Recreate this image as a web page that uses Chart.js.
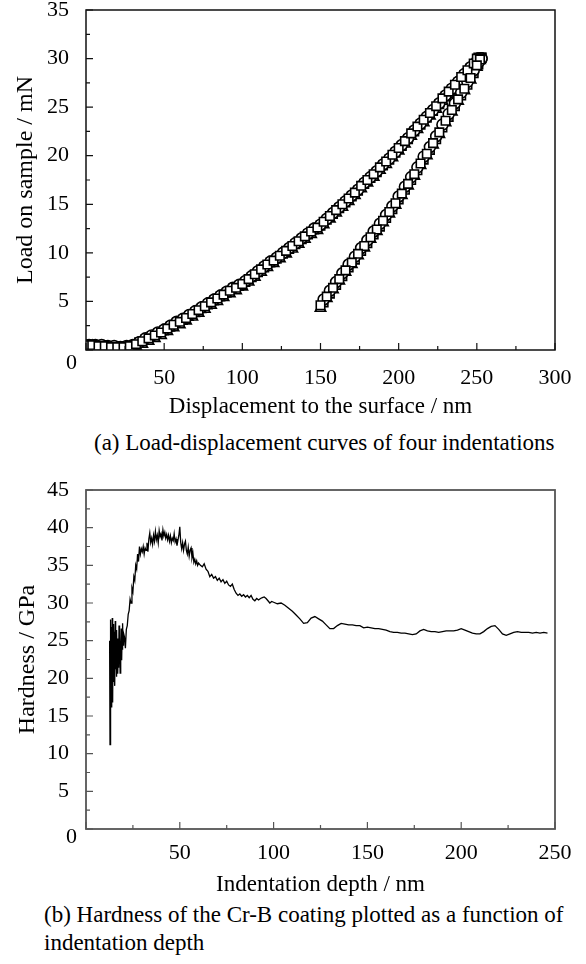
<!DOCTYPE html>
<html>
<head>
<meta charset="utf-8">
<script src="https://cdn.jsdelivr.net/npm/chart.js@4.4.1/dist/chart.umd.min.js"></script>
<style>
body { margin: 0; background: #fff; width: 586px; height: 964px; position: relative; overflow: hidden;
       font-family: "Liberation Serif", "Times New Roman", serif; color: #000; }
#c1 { position: absolute; left: 0; top: 0; }
#c2 { position: absolute; left: 0; top: 460px; }
.cap { position: absolute; font-size: 23px; line-height: 23px; white-space: nowrap; }
</style>
</head>
<body>
<canvas id="c1" width="586" height="430"></canvas>
<canvas id="c2" width="586" height="440"></canvas>
<div class="cap" style="left:94px;top:431px">(a) Load-displacement curves of four indentations</div>
<div class="cap" style="left:44px;top:903px">(b) Hardness of the Cr-B coating plotted as a function of</div>
<div class="cap" style="left:44px;top:931px">indentation depth</div>
<script>
// (a) load-displacement, four indentations
var loadDispA = [0, 4, 8, 12, 16, 20, 24, 28, 32, 36, 40, 44, 48, 52, 56, 60, 64, 68, 72, 76, 80, 84, 88, 92, 96,
    100, 104, 108, 112, 116, 120, 124, 128, 132, 136, 140, 144, 148, 152, 156, 160, 164, 168, 172, 176, 180,
    184, 188, 192, 196, 200, 204, 208, 212, 216, 220, 224, 228, 232, 236, 240, 244, 248, 250, 252];
var loadDispB = [2, 6, 10, 14, 18, 22, 26, 30, 34, 38, 42, 46, 50, 54, 58, 62, 66, 70, 74, 78, 82, 86, 90, 94, 98,
    102, 106, 110, 114, 118, 122, 126, 130, 134, 138, 142, 146, 150, 154, 158, 162, 166, 170, 174, 178, 182,
    186, 190, 194, 198, 202, 206, 210, 214, 218, 222, 226, 230, 234, 238, 242, 246, 250, 251, 253];
var load1 = [0.5, 0.5, 0.4, 0.4, 0.3, 0.3, 0.3, 0.4, 0.6, 0.9, 1.2, 1.5, 1.8, 2.2, 2.6, 2.9, 3.3, 3.7, 4.1, 4.5,
    4.9, 5.3, 5.7, 6.1, 6.4, 6.8, 7.3, 7.8, 8.3, 8.8, 9.2, 9.7, 10.2, 10.7, 11.2, 11.7, 12.2, 12.6, 13.2, 13.8,
    14.4, 15.0, 15.6, 16.2, 16.9, 17.5, 18.1, 18.8, 19.4, 20.1, 20.8, 21.5, 22.3, 23.0, 23.7, 24.4, 25.1, 25.9,
    26.6, 27.3, 28.1, 28.8, 29.5, 30.0, 30.0];
var load2 = [0.5, 0.5, 0.5, 0.4, 0.4, 0.3, 0.4, 0.5, 0.8, 1.2, 1.5, 1.8, 2.1, 2.5, 2.9, 3.2, 3.6, 4.0, 4.4, 4.8,
    5.2, 5.6, 6.0, 6.4, 6.7, 7.1, 7.6, 8.1, 8.6, 9.1, 9.5, 10.0, 10.5, 11.0, 11.5, 12.0, 12.5, 12.9, 13.5, 14.1,
    14.7, 15.3, 15.9, 16.5, 17.2, 17.8, 18.4, 19.1, 19.7, 20.4, 21.1, 21.8, 22.6, 23.3, 24.0, 24.7, 25.4, 26.2,
    26.9, 27.6, 28.4, 29.1, 29.7, 30.0, 30.0];
var load3 = [0.4, 0.4, 0.3, 0.3, 0.2, 0.2, 0.2, 0.3, 0.4, 0.6, 0.9, 1.2, 1.5, 1.9, 2.3, 2.6, 3.0, 3.4, 3.8, 4.2,
    4.6, 5.0, 5.4, 5.8, 6.1, 6.5, 7.0, 7.5, 8.0, 8.5, 8.9, 9.4, 9.9, 10.4, 10.9, 11.4, 11.9, 12.3, 12.9, 13.5,
    14.1, 14.7, 15.3, 15.9, 16.6, 17.2, 17.8, 18.5, 19.1, 19.8, 20.5, 21.2, 22.0, 22.7, 23.4, 24.1, 24.8, 25.6,
    26.3, 27.0, 27.8, 28.5, 29.2, 29.8, 29.9];
var load4 = [0.6, 0.5, 0.5, 0.4, 0.4, 0.3, 0.4, 0.4, 0.8, 1.1, 1.4, 1.7, 2.0, 2.4, 2.8, 3.1, 3.5, 3.9, 4.3, 4.7,
    5.1, 5.5, 5.9, 6.3, 6.6, 7.0, 7.5, 8.0, 8.5, 9.0, 9.4, 9.9, 10.4, 10.9, 11.4, 11.9, 12.4, 12.8, 13.4, 14.0,
    14.6, 15.2, 15.8, 16.4, 17.1, 17.7, 18.3, 19.0, 19.6, 20.3, 21.0, 21.7, 22.5, 23.2, 23.9, 24.6, 25.3, 26.1,
    26.8, 27.5, 28.3, 29.0, 29.6, 30.1, 30.1];

var unloadDispA = [252, 250, 246, 242, 238, 234, 230, 226, 222, 218, 214, 210, 206, 202, 198, 194, 190, 186,
    182, 178, 174, 170, 166, 162, 158, 154, 150];
var unloadDispB = [253, 251, 248, 244, 240, 236, 232, 228, 224, 220, 216, 212, 208, 204, 200, 196, 192, 188,
    184, 180, 176, 172, 168, 164, 160, 156, 152];
var unload1 = [29.9, 29.3, 28.0, 26.9, 25.8, 24.7, 23.6, 22.4, 21.3, 20.2, 19.2, 18.1, 17.1, 16.1, 15.1, 14.2,
    13.3, 12.4, 11.6, 10.7, 9.9, 9.0, 8.2, 7.3, 6.4, 5.5, 4.6];
var unload2 = [30.0, 29.6, 28.8, 27.6, 26.5, 25.4, 24.3, 23.2, 22.0, 20.9, 19.9, 18.8, 17.8, 16.8, 15.8, 14.8,
    13.9, 13.0, 12.2, 11.3, 10.5, 9.6, 8.8, 7.9, 7.0, 6.1, 5.2];
var unload3 = [29.8, 29.1, 27.8, 26.7, 25.6, 24.5, 23.4, 22.2, 21.1, 20.0, 19.0, 17.9, 16.9, 15.9, 14.9, 14.0,
    13.1, 12.2, 11.4, 10.5, 9.7, 8.8, 8.0, 7.1, 6.2, 5.3, 4.3];
var unload4 = [30.1, 29.4, 28.5, 27.3, 26.2, 25.1, 24.0, 22.9, 21.7, 20.6, 19.6, 18.5, 17.5, 16.5, 15.5, 14.5,
    13.6, 12.7, 11.9, 11.0, 10.2, 9.3, 8.5, 7.6, 6.7, 5.8, 4.9];

var dispTicks = [0, 50, 100, 150, 200, 250, 300];
var loadTicks = [0, 5, 10, 15, 20, 25, 30, 35];

// (b) hardness vs indentation depth
var depth = [12.6, 12.8, 13.0, 13.2, 13.4, 13.6, 13.8, 14.0, 14.2, 14.4, 14.6, 14.8, 15.0, 15.2, 15.4, 15.6,
    15.8, 16.0, 16.2, 16.4, 16.6, 16.8, 17.0, 17.2, 17.4, 17.6, 17.8, 18.0, 18.2, 18.4, 18.6, 18.8, 19.0, 19.2,
    19.4, 19.6, 19.8, 20.0,
    20.5, 21, 21.5, 22, 22.5, 23, 23.5, 24, 24.5, 25, 25.5, 26, 26.5, 27, 27.5, 28, 28.5, 29, 29.5, 30,
    30.5, 31, 31.5, 32, 32.5, 33, 33.5, 34, 34.5, 35, 35.5, 36, 36.5, 37, 37.5, 38, 38.5, 39, 39.5, 40,
    40.5, 41, 41.5, 42, 42.5, 43, 43.5, 44, 44.5, 45, 45.5, 46, 46.5, 47, 47.5, 48, 48.5, 49, 49.5, 50,
    50.5, 51, 51.5, 52, 52.5, 53, 53.5, 54, 54.5, 55, 55.5, 56, 56.5, 57, 57.5, 58, 58.5, 59, 59.5, 60,
    61, 62, 63, 64, 65, 66, 67, 68, 69, 70, 71, 72, 73, 74, 75, 76, 77, 78, 79, 80,
    81, 82, 83, 84, 85, 86, 87, 88, 89, 90, 91, 92, 93, 94, 95, 96, 97, 98, 99, 100,
    102, 104, 106, 108, 110, 112, 114, 116, 118, 120, 122, 124, 126, 128, 130, 132, 134, 136, 138, 140,
    142, 144, 146, 148, 150, 152, 154, 156, 158, 160, 162, 164, 166, 168, 170, 172, 174, 176, 178, 180,
    182, 184, 186, 188, 190, 192, 194, 196, 198, 200, 202, 204, 206, 208, 210, 212, 214, 216, 218, 220,
    222, 224, 226, 228, 230, 232, 234, 236, 238, 240, 242, 244, 246];
var hardness = [25.0, 11.2, 24.5, 27.8, 16.2, 26.8, 17.5, 28.0, 16.8, 25.8, 19.5, 27.2, 20.8, 26.2, 19.0, 27.6,
    21.2, 24.8, 20.2, 26.4, 22.6, 25.3, 20.6, 23.8, 21.4, 27.0, 22.2, 25.6, 20.7, 24.2, 23.4, 26.6, 22.4, 25.2,
    23.8, 27.3, 24.4, 26.0,
    25.5, 24.0, 26.5, 27.0, 28.5, 29.0, 30.5, 30.0, 32.0, 31.5, 33.5, 33.0, 35.0, 34.5, 36.5, 35.5, 37.5, 36.5, 37.2, 36.8,
    37.5, 36.5, 37.3, 37.0, 38.0, 36.8, 38.5, 39.3, 38.0, 38.6, 37.8, 39.0, 38.2, 39.5, 38.4, 39.0, 38.0, 39.6, 38.8, 39.2,
    38.3, 39.7, 38.9, 39.4, 38.6, 39.1, 38.4, 39.0, 38.2, 38.9, 38.0, 38.6, 38.3, 39.2, 38.1, 38.5, 37.6, 38.3, 39.0, 40.1,
    38.0, 37.2, 38.0, 37.0, 37.8, 38.2, 37.0, 36.5, 37.4, 36.2, 37.0, 37.3, 36.0, 36.6, 35.4, 35.8, 35.2, 35.6, 35.0, 35.3,
    35.0, 34.8, 35.2, 34.5, 34.2, 33.5, 33.8, 33.3, 33.5, 33.0, 33.3, 32.8, 33.1, 32.6, 32.9, 32.4, 32.2, 32.5, 31.8, 31.3,
    31.0, 31.2, 30.9, 31.1, 30.8, 31.0, 30.7, 31.0, 30.5, 30.3, 30.6, 30.4, 30.6, 30.7, 30.8, 30.6, 30.3, 30.0, 30.2, 30.1,
    29.9, 30.0, 29.7, 29.3, 28.9, 28.4, 27.9, 27.3, 27.4, 28.0, 28.2, 27.9, 27.6, 27.1, 26.6, 26.6, 27.0, 27.3, 27.2, 27.1,
    27.1, 27.0, 27.0, 26.7, 26.8, 26.7, 26.6, 26.6, 26.5, 26.4, 26.2, 26.1, 26.1, 26.0, 26.0, 25.9, 25.8, 25.9, 26.3, 26.5,
    26.3, 26.2, 26.2, 26.1, 26.2, 26.3, 26.3, 26.3, 26.4, 26.6, 26.4, 26.2, 26.0, 25.9, 25.9, 26.2, 26.6, 26.9, 27.0, 26.5,
    25.9, 25.7, 25.9, 26.1, 26.2, 26.1, 26.1, 26.1, 26.0, 26.1, 26.0, 26.1, 26.0];

var depthTicks = [0, 50, 100, 150, 200, 250];
var hardTicks = [0, 5, 10, 15, 20, 25, 30, 35, 40, 45];

var FONT = '"Liberation Serif", "Times New Roman", serif';
Chart.defaults.font.family = FONT;
Chart.defaults.color = '#000';

function pairs(xs, ys) {
    var out = [];
    for (var i = 0; i < xs.length; i++) out.push({x: xs[i], y: ys[i]});
    return out;
}

// ticks pointing into the plot, a box round it, and the shared "0" at the corner
var innerTicks = {
    id: 'innerTicks',
    afterDatasetsDraw: function (chart, args, o) {
        var ctx = chart.ctx, a = chart.chartArea, xs = chart.scales.x, ys = chart.scales.y;
        ctx.save();
        ctx.strokeStyle = o.color;
        ctx.lineWidth = o.width;
        ctx.strokeRect(a.left, a.top, a.right - a.left, a.bottom - a.top);
        ctx.lineWidth = 1.2;
        ctx.beginPath();
        for (var i = 0; i < o.xt.length; i++) {
            var p = xs.getPixelForValue(o.xt[i]);
            ctx.moveTo(p, a.bottom); ctx.lineTo(p, a.bottom - 7);
            if (i < o.xt.length - 1) {
                var m = xs.getPixelForValue((o.xt[i] + o.xt[i + 1]) / 2);
                ctx.moveTo(m, a.bottom); ctx.lineTo(m, a.bottom - 4);
            }
        }
        for (var j = 0; j < o.yt.length; j++) {
            var q = ys.getPixelForValue(o.yt[j]);
            ctx.moveTo(a.left, q); ctx.lineTo(a.left + 7, q);
            if (j < o.yt.length - 1) {
                var n = ys.getPixelForValue((o.yt[j] + o.yt[j + 1]) / 2);
                ctx.moveTo(a.left, n); ctx.lineTo(a.left + 4, n);
            }
        }
        ctx.stroke();
        ctx.fillStyle = '#000';
        ctx.font = '22px ' + FONT;
        ctx.textAlign = 'right';
        ctx.textBaseline = 'middle';
        ctx.fillText('0', ys.right - 9, a.bottom + o.zeroDrop);
        ctx.restore();
    }
};

function axes(xTicks, xMin, xMax, xTitle, xPad, xTitlePad, xH, yTicks, yMax, yTitle, yTitlePad) {
    return {
        x: {
            type: 'linear', min: xMin, max: xMax,
            grid: {display: false}, border: {display: false},
            afterBuildTicks: function (s) { s.ticks = xTicks.map(function (v) { return {value: v}; }); },
            ticks: {font: {size: 22}, color: '#000', padding: xPad, maxRotation: 0, autoSkip: false,
                callback: function (v) { return v === 0 ? '' : v; }},
            title: {display: true, text: xTitle, color: '#000', font: {size: 23}, padding: {top: 0, bottom: xTitlePad}},
            afterFit: function (s) { s.height = xH; s.paddingLeft = 0; s.paddingRight = 0; }
        },
        y: {
            type: 'linear', min: 0, max: yMax,
            grid: {display: false}, border: {display: false},
            afterBuildTicks: function (s) { s.ticks = yTicks.map(function (v) { return {value: v}; }); },
            ticks: {font: {size: 22}, color: '#000', padding: 9, autoSkip: false,
                callback: function (v) { return v === 0 ? '' : v; }},
            title: {display: true, text: yTitle, color: '#000', font: {size: 24}, padding: {top: yTitlePad, bottom: 0}},
            afterFit: function (s) { s.width = 86; s.paddingTop = 0; s.paddingBottom = 0; }
        }
    };
}

function marker(label, data, style, radius, rot) {
    return {
        label: label, data: data, showLine: false,
        pointStyle: style, pointRadius: radius, pointRotation: rot || 0,
        borderColor: '#000', backgroundColor: '#fff', pointBorderWidth: 1.6
    };
}

new Chart(document.getElementById('c1'), {
    type: 'scatter',
    data: {
        datasets: [
            marker('Indentation 1', pairs(loadDispA, load1).concat(pairs(unloadDispA, unload1)), 'rect', 6),
            marker('Indentation 2', pairs(loadDispB, load2).concat(pairs(unloadDispB, unload2)), 'circle', 5.5),
            marker('Indentation 3', pairs(loadDispA, load3).concat(pairs(unloadDispA, unload3)), 'triangle', 6),
            marker('Indentation 4', pairs(loadDispB, load4).concat(pairs(unloadDispB, unload4)), 'rect', 6)
        ]
    },
    options: {
        responsive: false, animation: false, events: [],
        layout: {padding: {top: 10, right: 31, left: 0, bottom: 0}},
        scales: axes(dispTicks, 0, 300, 'Displacement to the surface / nm', 7, 9, 80,
                     loadTicks, 35, 'Load on sample / mN', 11),
        plugins: {
            legend: {display: false}, tooltip: {enabled: false},
            innerTicks: {color: '#111', width: 1.5, xt: dispTicks, yt: loadTicks, zeroDrop: 13}
        }
    },
    plugins: [innerTicks]
});

new Chart(document.getElementById('c2'), {
    type: 'scatter',
    data: {
        datasets: [{
            label: 'Hardness', data: pairs(depth, hardness), showLine: true,
            pointRadius: 0, borderColor: '#000', borderWidth: 1.3, tension: 0
        }]
    },
    options: {
        responsive: false, animation: false, events: [],
        layout: {padding: {top: 30, right: 31, left: 0, bottom: 0}},
        scales: axes(depthTicks, 0, 250, 'Indentation depth / nm', 3, 1, 71,
                     hardTicks, 45, 'Hardness / GPa', 13),
        plugins: {
            legend: {display: false}, tooltip: {enabled: false},
            innerTicks: {color: '#555', width: 1.8, xt: depthTicks, yt: hardTicks, zeroDrop: 8.5}
        }
    },
    plugins: [innerTicks]
});
</script>
</body>
</html>
